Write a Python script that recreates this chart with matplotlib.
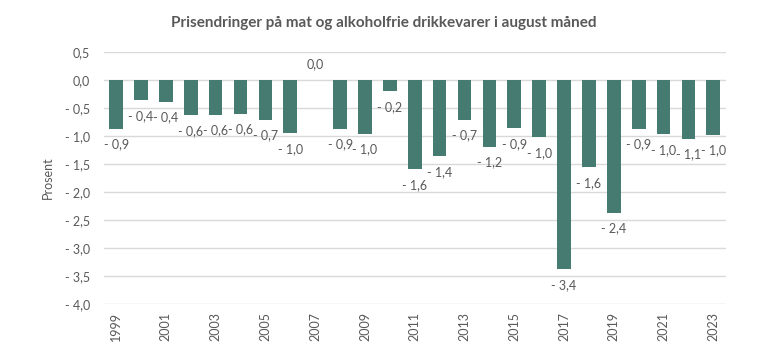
import numpy as np
import matplotlib.pyplot as plt

years = list(range(1999, 2024))
values = [-0.87, -0.36, -0.39, -0.63, -0.62, -0.60, -0.71, -0.95, 0.0,
          -0.87, -0.96, -0.20, -1.59, -1.36, -0.71, -1.19, -0.86, -1.02,
          -3.38, -1.56, -2.37, -0.87, -0.97, -1.05, -0.98]
labels = ["- 0,9", "- 0,4", "- 0,4", "- 0,6", "- 0,6", "- 0,6", "- 0,7", "- 1,0", "0,0",
          "- 0,9", "- 1,0", "- 0,2", "- 1,6", "- 1,4", "- 0,7", "- 1,2", "- 0,9", "- 1,0",
          "- 3,4", "- 1,6", "- 2,4", "- 0,9", "- 1,0", "- 1,1", "- 1,0"]
yticks = [0.5, 0.0, -0.5, -1.0, -1.5, -2.0, -2.5, -3.0, -3.5, -4.0]

plt.rcParams['font.family'] = ['Lato', 'DejaVu Sans']
txt = '#595959'
bar_col = '#457b70'

fig = plt.figure(figsize=(7.68, 3.58), dpi=100)
ax = fig.add_axes([0.135, 0.151, 0.81, 0.704])

x = np.arange(len(years))
ax.bar(x, values, width=0.55, color=bar_col, zorder=3)

for xi, v, lab in zip(x, values, labels):
    if v >= 0:
        ax.annotate(lab, (xi, v), xytext=(0, 7), textcoords='offset points',
                    ha='center', va='bottom', fontsize=9, color=txt)
    else:
        ax.annotate(lab, (xi, v), xytext=(0, -7), textcoords='offset points',
                    ha='center', va='top', fontsize=9, color=txt)

ax.set_xlim(-0.5, len(years) - 0.5)
ax.set_ylim(-4.0, 0.5)
ax.set_yticks(yticks)
ax.set_yticklabels([("- " + f"{abs(t):.1f}" if t < 0 else f"{t:.1f}").replace('.', ',') for t in yticks])
ax.set_xticks(x[::2])
ax.set_xticklabels([str(y) for y in years[::2]], rotation=90)
ax.tick_params(length=0, labelsize=9, colors=txt)
ax.tick_params(axis='x', pad=6)
ax.tick_params(axis='y', pad=10)
ax.grid(axis='y', color='#d9d9d9', linewidth=1, zorder=0)
for s in ax.spines.values():
    s.set_visible(False)

ax.set_ylabel("Prosent", fontsize=9, color=txt, labelpad=8)
fig.text(0.5, 0.935, "Prisendringer på mat og alkoholfrie drikkevarer i august måned",
         ha='center', va='center', fontsize=11, fontweight='bold', color=txt)

fig.savefig("out.png", dpi=100)
